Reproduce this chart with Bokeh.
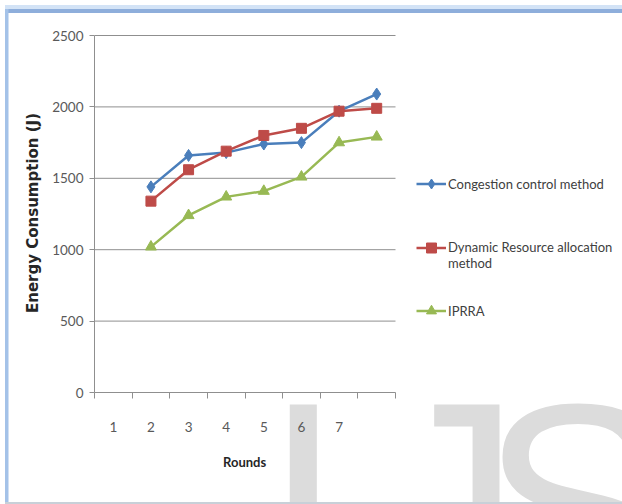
from urllib.parse import quote

from bokeh.plotting import figure
from bokeh.models import FixedTicker, Legend, LegendItem, Title
from bokeh.embed import file_html
from bokeh.resources import INLINE

# ---- data -------------------------------------------------------------
round_ticks = [1, 2, 3, 4, 5, 6, 7]
round_labels = ["1", "2", "3", "4", "5", "6", "7"]
round_slots = 8                      # category slots on the x axis
x_pos = [2, 3, 4, 5, 6, 7, 8]        # slots holding the measured rounds
congestion = [1440, 1660, 1680, 1740, 1750, 1970, 2090]
dynamic = [1340, 1560, 1690, 1800, 1850, 1970, 1990]
iprra = [1020, 1240, 1370, 1410, 1510, 1750, 1790]
y_ticks = [0, 500, 1000, 1500, 2000, 2500]

# ---- layout -----------------------------------------------------------
W, H = 622, 504
FL, FR, FT, FB = 94, 395, 35, 392      # plotting area edges in pixels
X0, X1 = 0.5, round_slots + 0.5
Y0, Y1 = 0, 2500
# the frame runs on to the right edge so the legend can sit inside it
x_end = X0 + (X1 - X0) * (W - FL) / (FR - FL)
y_end = Y1 * (FB - FT + 2) / (FB - FT)

TICK_FONT = "Lato"
GRID = "#8f8f8f"
BLUE, RED, GREEN = "#4a7ebb", "#be4b48", "#98b954"

# page backdrop: window frame lines and the faint watermark letters
backdrop = f"""<svg xmlns='http://www.w3.org/2000/svg' width='{W}' height='{H}'>
<rect x='0' y='0' width='{W}' height='{H}' fill='white'/>
<g font-family='Liberation Sans' font-size='290' fill='#dcdcdc'>
<text x='263' y='604'>I</text><text x='376' y='604'>J</text><text x='480' y='606'>S</text>
</g>
<rect x='5' y='5' width='{W - 5}' height='4' fill='#d3e3f6'/>
<rect x='5' y='9' width='{W - 5}' height='4' fill='#8eaedb'/>
<rect x='5' y='9' width='3.5' height='494' fill='#a4c2e8'/>
<rect x='5' y='502' width='{W - 5}' height='2' fill='#c8d0d8'/>
</svg>"""

p = figure(width=W, height=H, x_range=(X0, x_end), y_range=(Y0, y_end),
           output_backend="svg", toolbar_location=None,
           min_border_left=FL, min_border_right=0,
           min_border_top=FT - 2, min_border_bottom=H - FB)
p.outline_line_color = None
p.background_fill_color = None
p.border_fill_color = None
p.styles = {
    "background-image": f'url("data:image/svg+xml,{quote(backdrop, safe="")}")',
    "background-repeat": "no-repeat",
    "background-color": "white",
}

# x axis: labels centred on slots, tick marks on slot boundaries
p.xaxis.bounds = (X0, X1)
p.xaxis.ticker = FixedTicker(ticks=round_ticks,
                             minor_ticks=[s + 0.5 for s in range(round_slots + 1)])
p.xaxis.major_label_overrides = dict(zip(round_ticks, round_labels))
p.xaxis.major_tick_out = 0
p.xaxis.major_tick_in = 0
p.xaxis.minor_tick_out = 6
p.xaxis.minor_tick_in = 0
p.xaxis.minor_tick_line_color = GRID
p.xaxis.major_label_standoff = 23

# x axis title, centred under the plotting slots rather than the whole frame
ROUNDS_W = 44
p.add_layout(Title(text="Rounds", align="left",
                   offset=(FL + FR) / 2 - ROUNDS_W / 2 - FL, standoff=35,
                   text_font="Lato", text_font_style="bold",
                   text_font_size="13px", text_color="#262626"), "below")

# y axis
p.yaxis.bounds = (Y0, Y1)
p.yaxis.ticker = FixedTicker(ticks=y_ticks)
p.yaxis.major_tick_out = 5
p.yaxis.major_tick_in = 0
p.yaxis.minor_tick_out = 0
p.yaxis.minor_tick_in = 0
p.yaxis.major_label_standoff = 6
p.yaxis.axis_label = "Energy Consumption (J)"
p.yaxis.axis_label_standoff = 7
p.yaxis.axis_label_text_font = "DejaVu Sans"
p.yaxis.axis_label_text_font_style = "bold"
p.yaxis.axis_label_text_font_size = "15px"
p.yaxis.axis_label_text_color = "#262626"

for ax in (p.xaxis, p.yaxis):
    ax.axis_line_color = GRID
    ax.major_tick_line_color = GRID
    ax.major_label_text_font = TICK_FONT
    ax.major_label_text_font_size = "13.5px"
    ax.major_label_text_color = "#595959"

# horizontal gridlines over the plotting slots only
p.grid.visible = False
p.segment(x0=X0, x1=X1, y0=y_ticks[1:], y1=y_ticks[1:], line_color=GRID, line_width=1)

# series
l1 = p.line(x_pos, congestion, line_color=BLUE, line_width=2.5)
m1 = p.scatter(x_pos, congestion, marker="diamond", size=12, fill_color=BLUE, line_color=BLUE)
l2 = p.line(x_pos, dynamic, line_color=RED, line_width=2.5)
m2 = p.scatter(x_pos, dynamic, marker="square", size=10, fill_color=RED, line_color=RED)
l3 = p.line(x_pos, iprra, line_color=GREEN, line_width=2.5)
m3 = p.scatter(x_pos, iprra, marker="triangle", size=11, fill_color=GREEN, line_color=GREEN)

# the blank first line keeps the glyph level with the label's first line
legend = Legend(items=[
    LegendItem(label="Congestion control method", renderers=[l1, m1]),
    LegendItem(label="\nDynamic Resource allocation\nmethod", renderers=[l2, m2]),
    LegendItem(label="IPRRA", renderers=[l3, m3]),
], location=(416 - FL, 69), glyph_width=30, glyph_height=25, label_height=25,
    label_standoff=2, padding=0, margin=0, spacing=27,
    border_line_alpha=0, background_fill_alpha=0,
    label_text_font=TICK_FONT, label_text_font_size="13px",
    label_text_color="#404040")
p.add_layout(legend, "center")

open("out.html", "w").write(file_html(p, INLINE))
